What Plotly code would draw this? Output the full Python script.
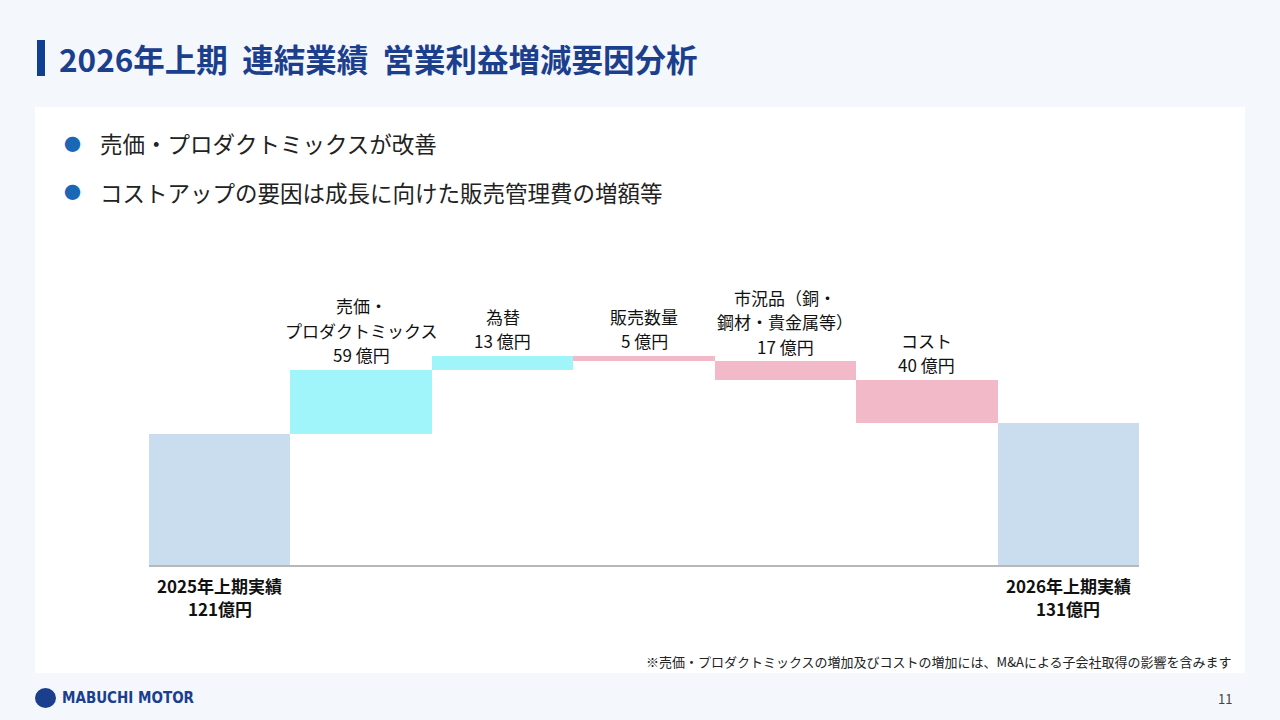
import plotly.graph_objects as go

# waterfall data (億円)
categories = ["2025年上期実績", "売価・プロダクトミックス", "為替", "販売数量",
              "市況品（銅・鋼材・貴金属等）", "コスト", "2026年上期実績"]
measures = ["absolute", "relative", "relative", "relative", "relative", "relative", "total"]
values = [121, 59, 13, -5, -17, -40, 0]
step_names = [["売価・", "プロダクトミックス"], ["為替"], ["販売数量"],
              ["市況品（銅・", "鋼材・貴金属等）"], ["コスト"]]
end_names = ["2025年上期実績", "2026年上期実績"]

bullets = ["売価・プロダクトミックスが改善",
           "コストアップの要因は成長に向けた販売管理費の増額等"]
title = "2026年上期  連結業績  営業利益増減要因分析"
note = "※売価・プロダクトミックスの増加及びコストの増加には、M&Aによる子会社取得の影響を含みます"

FONT = "Noto Sans CJK JP"
W, H = 1280, 720
ML, MR, MT, MB = 149, 141, 283, 155
PW, PH = W - ML - MR, H - MT - MB
LINE = 24.5


def px(x):
    return (x - ML) / PW


def py(y):
    return (H - MB - y) / PH


def txt(x, y, s, size, color, anchor="left", family=FONT):
    return dict(x=px(x), y=py(y), xref="paper", yref="paper", text=s, showarrow=False,
                xanchor=anchor, yanchor="middle", font=dict(family=family, size=size, color=color))


# running totals for label placement
cum = [values[0]]
for v in values[1:-1]:
    cum.append(cum[-1] + v)
total = cum[-1]

fig = go.Figure(go.Waterfall(
    x=categories, y=values, measure=measures,
    connector=dict(visible=False),
    increasing=dict(marker=dict(color="#a0f5fb", line=dict(width=0))),
    decreasing=dict(marker=dict(color="#f2bac9", line=dict(width=0))),
    totals=dict(marker=dict(color="#c9ddef", line=dict(width=0))),
    hoverinfo="skip",
))

annotations = []
for i, name in enumerate(step_names):
    top = max(cum[i], cum[i + 1])
    lines = name + [f"{abs(values[i + 1])} 億円"]
    n = len(lines)
    for j, s in enumerate(lines):
        annotations.append(dict(
            x=categories[i + 1], y=top, xref="x", yref="y", text=s,
            showarrow=False, yanchor="middle", yshift=15 + (n - 1 - j) * LINE,
            font=dict(family=FONT, size=17, color="#111111"),
        ))

# start / end labels under the axis
for cat, name, v in [(categories[0], end_names[0], values[0]), (categories[-1], end_names[1], total)]:
    for j, s in enumerate([name, f"{v}億円"]):
        annotations.append(dict(
            x=cat, y=0, xref="x", yref="y", text=f"<b>{s}</b>",
            showarrow=False, yanchor="middle", yshift=-20 - j * 23,
            font=dict(family=FONT, size=17, color="#111111"),
        ))

# slide texts
annotations.append(txt(57, 58, f"<b>{title}</b>", 31.5, "#1b3f8c"))
for k, b in enumerate(bullets):
    yy = 143 + 49 * k
    annotations.append(txt(62, yy, "●", 17, "#1a68b5"))
    annotations.append(txt(98, yy, b, 22.5, "#222222"))
annotations.append(txt(1234, 661, note, 13, "#222222", anchor="right"))
annotations.append(txt(60, 698, "<b>MABUCHI MOTOR</b>", 15, "#1b3f8c", family="DejaVu Sans Condensed"))
annotations.append(txt(1234, 698, "11", 13, "#444444", anchor="right"))

shapes = [
    dict(type="rect", xref="paper", yref="paper", x0=px(35), x1=px(1245), y0=py(673), y1=py(107),
         fillcolor="white", line=dict(width=0), layer="below"),
    dict(type="rect", xref="paper", yref="paper", x0=px(37), x1=px(45), y0=py(76), y1=py(40),
         fillcolor="#0f3f92", line=dict(width=0)),
    dict(type="circle", xref="paper", yref="paper", x0=px(35), x1=px(56), y0=py(708), y1=py(688),
         fillcolor="#1b3f8c", line=dict(width=0)),
]

fig.update_layout(
    width=W, height=H,
    margin=dict(l=ML, r=MR, t=MT, b=MB),
    paper_bgcolor="#f4f7fc", plot_bgcolor="rgba(0,0,0,0)",
    showlegend=False, waterfallgap=0,
    annotations=annotations, shapes=shapes,
    font=dict(family=FONT),
)
fig.update_xaxes(showgrid=False, zeroline=False, showline=True, linecolor="#b8b8b8",
                 linewidth=2, showticklabels=False)
fig.update_yaxes(range=[0, 260], visible=False)

# drop the default page margin so the slide sits at the window corner
fig.write_html("out.html", config={"displayModeBar": False},
               post_script="document.body.style.margin='0';document.body.style.background='#f4f7fc';")
